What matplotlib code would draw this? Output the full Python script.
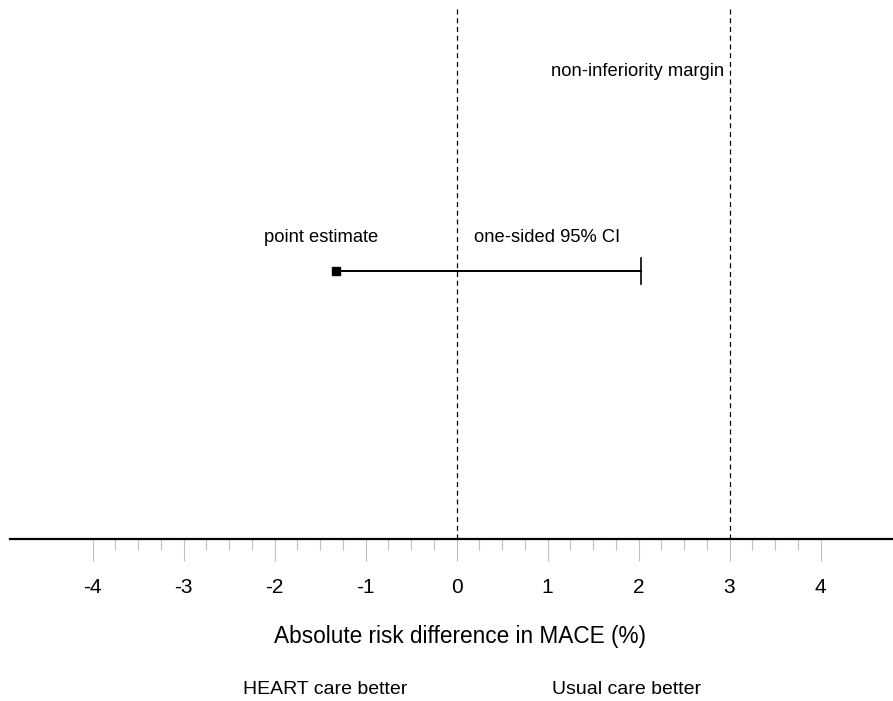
import numpy as np
import matplotlib.pyplot as plt
from matplotlib.ticker import FixedLocator

plt.rcParams['font.family'] = ['Liberation Sans', 'DejaVu Sans']

# ===================== DATA =====================
point_estimate = -1.32
ci_upper = 2.03
null_line = 0
ni_margin = 3
major_ticks = [-4, -3, -2, -1, 0, 1, 2, 3, 4]
minor_ticks = [t / 4 for t in range(-16, 17) if t % 4 != 0]

# ===================== FIGURE =====================
W, H = 893, 701
fig = plt.figure(figsize=(W / 100, H / 100), dpi=100)
ax = fig.add_axes([10 / W, (H - 539) / H, 883 / W, (539 - 8) / H])

for s in ['top', 'left', 'right']:
    ax.spines[s].set_visible(False)
ax.spines['bottom'].set_linewidth(1.6)

ax.set_xlim(-446.5 / 91, 436.5 / 91)
ax.set_ylim(0, 1)
ax.set_yticks([])

ax.xaxis.set_major_locator(FixedLocator(major_ticks))
ax.xaxis.set_minor_locator(FixedLocator(minor_ticks))
ax.set_xticklabels([str(t) for t in major_ticks])
ax.tick_params(axis='x', which='major', direction='out', length=16, width=0.8,
               color='#c0c0c0', labelsize=15, pad=12)
ax.tick_params(axis='x', which='minor', direction='out', length=8, width=0.8,
               color='#c0c0c0')

# reference lines
for xv in [null_line, ni_margin]:
    ax.axvline(xv, ymin=0, ymax=1, color='black', linestyle=(0, (4, 3)), linewidth=0.9)

# point estimate + one-sided CI
y_row = 0.505
ax.plot([point_estimate, ci_upper], [y_row, y_row], color='black', linewidth=1.4)
ax.plot([ci_upper, ci_upper], [y_row - 0.024, y_row + 0.024], color='black', linewidth=1.2)
ax.plot([point_estimate], [y_row], marker='s', color='black', markersize=6)

ax.text(-1.49, 0.568, 'point estimate', ha='center', va='center', fontsize=13.2)
ax.text(0.99, 0.568, 'one-sided 95% CI', ha='center', va='center', fontsize=13.2)
ax.text(2.94, 0.88, 'non-inferiority margin', ha='right', va='center', fontsize=13.2)

ax.set_xlabel('Absolute risk difference in MACE (%)', fontsize=16.3, va='center')
ax.xaxis.set_label_coords((460 - 10) / 883, -(637 - 539) / 531)

fig.text(325 / W, 1 - 690 / H, 'HEART care better', ha='center', va='center', fontsize=14)
fig.text(627 / W, 1 - 690 / H, 'Usual care better', ha='center', va='center', fontsize=14)

fig.savefig('out.png', dpi=100)
